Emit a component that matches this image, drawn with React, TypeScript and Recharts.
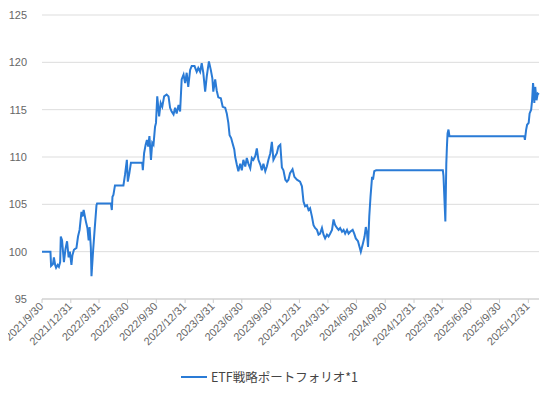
import { LineChart, Line, XAxis, YAxis, CartesianGrid, Legend } from "recharts";

const dates: string[] = [
  "2021-09-30", "2021-10-27", "2021-10-29", "2021-11-04", "2021-11-07", "2021-11-11", "2021-11-14", "2021-11-19",
  "2021-11-23", "2021-11-27", "2021-11-29", "2021-12-03", "2021-12-09", "2021-12-14", "2021-12-19", "2021-12-24",
  "2021-12-28", "2022-01-02", "2022-01-05", "2022-01-10", "2022-01-18", "2022-01-23", "2022-01-28", "2022-02-03",
  "2022-02-06", "2022-02-10", "2022-02-17", "2022-02-22", "2022-02-26", "2022-03-01", "2022-03-05", "2022-03-07",
  "2022-03-12", "2022-03-17", "2022-03-23", "2022-03-25", "2022-05-08", "2022-05-11", "2022-05-13", "2022-05-16",
  "2022-05-21", "2022-06-17", "2022-06-22", "2022-06-28", "2022-07-01", "2022-07-06", "2022-07-11", "2022-08-16",
  "2022-08-18", "2022-08-22", "2022-08-27", "2022-08-31", "2022-09-04", "2022-09-08", "2022-09-13", "2022-09-17",
  "2022-09-21", "2022-09-26", "2022-09-29", "2022-10-03", "2022-10-09", "2022-10-14", "2022-10-19", "2022-10-25",
  "2022-11-02", "2022-11-08", "2022-11-13", "2022-11-18", "2022-11-24", "2022-11-29", "2022-12-04", "2022-12-10",
  "2022-12-15", "2022-12-20", "2022-12-26", "2022-12-31", "2023-01-05", "2023-01-10", "2023-01-16", "2023-01-21",
  "2023-01-30", "2023-02-06", "2023-02-11", "2023-02-17", "2023-02-22", "2023-02-27", "2023-03-05", "2023-03-10",
  "2023-03-17", "2023-03-23", "2023-03-28", "2023-03-31", "2023-04-06", "2023-04-11", "2023-04-16", "2023-04-24",
  "2023-04-30", "2023-05-08", "2023-05-13", "2023-05-18", "2023-05-22", "2023-05-27", "2023-05-31", "2023-06-06",
  "2023-06-09", "2023-06-14", "2023-06-19", "2023-06-25", "2023-06-30", "2023-07-05", "2023-07-11", "2023-07-16",
  "2023-07-21", "2023-07-27", "2023-08-01", "2023-08-06", "2023-08-12", "2023-08-17", "2023-08-22", "2023-08-28",
  "2023-09-02", "2023-09-07", "2023-09-13", "2023-09-18", "2023-09-23", "2023-09-29", "2023-10-04", "2023-10-09",
  "2023-10-15", "2023-10-20", "2023-10-25", "2023-10-31", "2023-11-05", "2023-11-10", "2023-11-16", "2023-11-21",
  "2023-11-26", "2023-12-01", "2023-12-09", "2023-12-15", "2023-12-23", "2024-01-02", "2024-01-08", "2024-01-13",
  "2024-01-18", "2024-01-24", "2024-01-29", "2024-02-03", "2024-02-09", "2024-02-14", "2024-02-19", "2024-02-25",
  "2024-03-01", "2024-03-06", "2024-03-12", "2024-03-17", "2024-03-22", "2024-03-28", "2024-04-02", "2024-04-07",
  "2024-04-13", "2024-04-18", "2024-04-23", "2024-04-29", "2024-05-04", "2024-05-09", "2024-05-15", "2024-05-20",
  "2024-05-25", "2024-05-31", "2024-06-05", "2024-06-10", "2024-06-18", "2024-06-23", "2024-06-28", "2024-07-05",
  "2024-07-10", "2024-07-14", "2024-07-21", "2024-07-26", "2024-07-30", "2024-08-03", "2024-08-06", "2024-08-10",
  "2024-08-14", "2024-08-19", "2024-08-22", "2024-08-26", "2024-09-01", "2025-04-02", "2025-04-04", "2025-04-10",
  "2025-04-13", "2025-04-15", "2025-04-17", "2025-04-20", "2025-04-23", "2025-12-18", "2025-12-20", "2025-12-24",
  "2025-12-27", "2026-01-01", "2026-01-04", "2026-01-09", "2026-01-12", "2026-01-15", "2026-01-17", "2026-01-19",
  "2026-01-22", "2026-01-26", "2026-01-30", "2026-02-03",
];

const values: number[] = [
  100.0, 100.0, 98.5, 98.7, 99.4, 98.6, 98.3, 98.6,
  98.4, 98.9, 101.6, 101.2, 98.9, 100.3, 101.1, 99.4,
  100.0, 98.6, 99.6, 100.2, 100.4, 101.6, 102.3, 104.2,
  103.7, 104.4, 103.2, 102.5, 101.2, 102.6, 100.4, 97.4,
  100.0, 102.3, 104.9, 105.1, 105.1, 104.4, 105.8, 106.0,
  107.0, 107.0, 108.1, 109.7, 107.4, 108.3, 109.4, 109.4,
  108.6, 110.4, 111.3, 111.8, 111.1, 112.2, 109.7, 111.5,
  111.3, 113.2, 113.6, 116.4, 114.3, 115.7, 115.3, 116.4,
  116.6, 116.4, 115.2, 114.8, 114.5, 115.2, 114.6, 115.5,
  114.8, 118.2, 118.7, 117.8, 118.9, 117.4, 119.2, 119.6,
  119.6, 119.0, 119.4, 119.0, 119.9, 118.9, 116.9, 118.5,
  120.1, 119.2, 118.3, 116.9, 118.2, 117.0, 116.3, 116.2,
  115.3, 115.2, 114.6, 113.6, 112.3, 112.0, 111.5, 110.8,
  110.0, 109.2, 108.5, 109.3, 108.6, 109.7, 109.0, 109.9,
  109.3, 108.8, 109.9, 109.7, 110.1, 110.9, 109.7, 109.2,
  108.6, 109.3, 108.5, 109.0, 109.7, 110.4, 111.6, 109.7,
  110.1, 110.4, 111.1, 111.3, 108.9, 108.6, 107.6, 107.4,
  107.6, 108.3, 108.7, 107.9, 107.6, 107.4, 106.9, 105.3,
  104.8, 104.9, 104.4, 104.6, 103.7, 102.8, 102.5, 102.3,
  101.8, 101.9, 102.5, 101.8, 101.4, 101.8, 101.6, 101.9,
  102.3, 103.4, 102.8, 102.5, 102.3, 102.5, 102.1, 102.3,
  101.9, 102.3, 101.9, 102.1, 102.3, 101.9, 101.4, 101.1,
  100.5, 100.0, 100.9, 101.6, 102.6, 101.9, 100.5, 103.7,
  105.8, 107.9, 107.6, 108.5, 108.6, 108.6, 108.0, 103.2,
  109.3, 111.1, 112.5, 112.9, 112.2, 112.2, 111.8, 112.9,
  113.4, 113.6, 114.6, 115.0, 116.0, 117.8, 117.1, 115.7,
  117.4, 116.0, 116.7, 116.6,
];

const tickLabels: string[] = [
  "2021/9/30", "2021/12/31", "2022/3/31", "2022/6/30", "2022/9/30", "2022/12/31",
  "2023/3/31", "2023/6/30", "2023/9/30", "2023/12/31", "2024/3/31", "2024/6/30",
  "2024/9/30", "2024/12/31", "2025/3/31", "2025/6/30", "2025/9/30", "2025/12/31",
];

const yTicks: number[] = [95, 100, 105, 110, 115, 120, 125];

const seriesName = "ETF戦略ポートフォリオ*1";
const LINE_COLOR = "#2a7bd6";

const toTime = (label: string) => {
  const [y, m, d] = label.split("/").map(Number);
  return Date.UTC(y, m - 1, d);
};

const data = dates.map((d, i) => ({ t: Date.parse(d), v: values[i] }));
const xTicks = tickLabels.map(toTime);
const labelByTime: Record<number, string> = {};
tickLabels.forEach((l) => (labelByTime[toTime(l)] = l));

const DateTick = (props: any) => {
  const { x, y, payload } = props;
  return (
    <text
      x={0}
      y={0}
      transform={`translate(${x + 2},${y + 2}) rotate(-45)`}
      textAnchor="end"
      fontSize={11}
      fill="#666"
      fontFamily="'Liberation Sans', Arial, sans-serif"
    >
      {labelByTime[payload.value]}
    </text>
  );
};

const LegendContent = () => (
  <div
    style={{
      display: "flex",
      justifyContent: "center",
      alignItems: "center",
      fontFamily: "'Noto Sans CJK JP', 'Noto Sans', sans-serif",
      fontSize: 12.5,
      color: "#444",
    }}
  >
    <span
      style={{
        display: "inline-block",
        width: 26,
        height: 2,
        background: LINE_COLOR,
        marginRight: 4,
      }}
    />
    <span>{seriesName}</span>
  </div>
);

export default function App() {
  return (
    <div style={{ margin: -8, width: 556, height: 394, background: "#fff" }}>
      <LineChart
        width={556}
        height={394}
        data={data}
        margin={{ top: 15, right: 17, bottom: 5, left: 0 }}
      >
        <CartesianGrid vertical={false} stroke="#dddddd" />
        <XAxis
          dataKey="t"
          type="number"
          scale="time"
          domain={["dataMin", "dataMax"]}
          ticks={xTicks}
          interval={0}
          height={68}
          tick={<DateTick />}
          tickSize={4}
          stroke="#cccccc"
        />
        <YAxis
          domain={[95, 125]}
          ticks={yTicks}
          width={42}
          axisLine={false}
          tickLine={false}
          tickMargin={9}
          tick={{ fontSize: 11, fill: "#666", fontFamily: "'Liberation Sans', Arial, sans-serif" }}
        />
        <Legend verticalAlign="bottom" height={22} content={<LegendContent />} />
        <Line
          type="linear"
          dataKey="v"
          name={seriesName}
          stroke={LINE_COLOR}
          strokeWidth={2}
          dot={false}
          isAnimationActive={false}
        />
      </LineChart>
    </div>
  );
}
